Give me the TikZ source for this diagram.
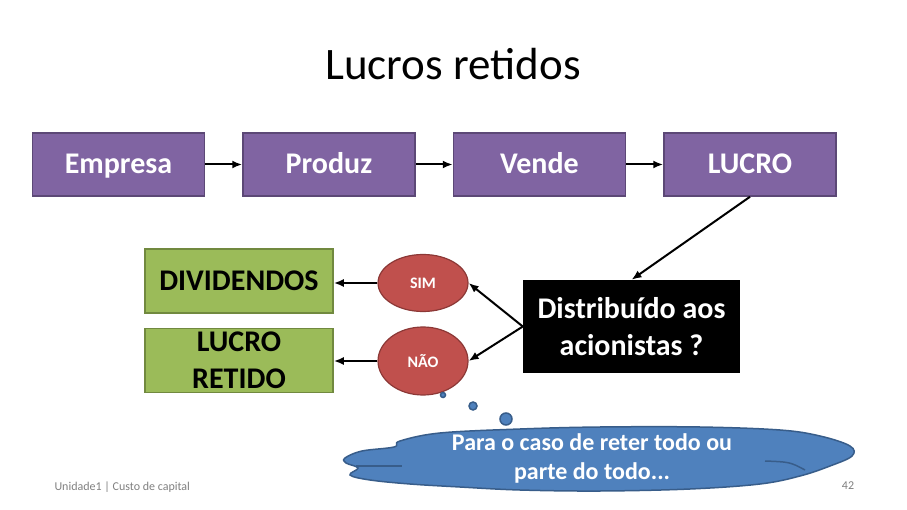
\documentclass[tikz,border=0pt]{standalone}
\usepackage{fontspec}
\setmainfont{Carlito}
\usepackage{tikz}
\usetikzlibrary{arrows.meta,positioning,shapes.geometric}
\usepackage{xcolor}
\definecolor{roxo}{HTML}{8064A2}
\definecolor{roxoborda}{HTML}{5C4876}
\definecolor{verde}{HTML}{9BBB59}
\definecolor{verdeborda}{HTML}{71893F}
\definecolor{vermelho}{HTML}{C0504D}
\definecolor{vermelhoborda}{HTML}{8C3836}
\definecolor{azul}{HTML}{4F81BD}
\definecolor{azulborda}{HTML}{385D8A}

\begin{document}
\begin{tikzpicture}[
  x=1pt, y=-1pt,
  node distance=37pt,
  procbox/.style={draw=roxoborda, fill=roxo, line width=1.5pt, minimum width=172pt, minimum height=63pt, text height=21pt, text depth=2pt, text=white, font=\bfseries\fontsize{30}{36}\selectfont},
  greenbox/.style={draw=verdeborda, fill=verde, line width=1.5pt, minimum width=188pt, minimum height=64pt, align=center, font=\bfseries\fontsize{30}{37}\selectfont},
  choice/.style={ellipse, draw=vermelhoborda, fill=vermelho, line width=1.2pt, minimum width=90pt, inner sep=0pt, text=white, font=\bfseries\fontsize{16}{18}\selectfont},
  bubble/.style={circle, draw=azulborda, fill=azul, line width=1.5pt, inner sep=0pt},
  flow/.style={-{Latex[length=10pt,width=8pt]}, line width=2pt}
]
\useasboundingbox (0,0) rectangle (907,510);
\node[font=\fontsize{45}{50}\selectfont] (titulo) at (453,64) {Lucros retidos};
% linha de cima
\node[procbox] (empresa) at (118.5,164.5) {Empresa};
\node[procbox, right=of empresa] (produz) {Produz};
\node[procbox, right=of produz] (vende) {Vende};
\node[procbox, right=of vende] (lucro) {LUCRO};
% decisao
\node[fill=black, minimum width=217pt, minimum height=93pt, align=center, text=white, font=\bfseries\fontsize{30}{37}\selectfont] (pergunta) at (631.5,326.5) {Distribuído aos\\acionistas ?};
\node[choice, minimum height=57pt] (sim) at (423,283) {SIM};
\node[choice, minimum height=68pt] (nao) at (423,361) {NÃO};
\node[greenbox] (divid) at (239,281) {DIVIDENDOS};
\node[greenbox, below=14pt of divid] (retido) {LUCRO\\RETIDO};
% nota em forma de nuvem
\draw[azulborda, fill=azul, line width=1.5pt] plot[smooth cycle, tension=0.6] coordinates {
  (345,458) (362,451) (394,447) (400,441) (440,433) (520,429) (600,427)
  (700,427) (780,430) (820,436) (850,446) (852,456) (830,466) (800,476)
  (760,484) (690,489) (600,491) (520,490) (460,487) (410,484) (370,480)
  (350,475) (358,468) (346,463)};
\draw[azulborda, line width=1.5pt] (356,466) -- (402,466);
\draw[azulborda, line width=1.5pt] (765,461) .. controls (790,462) .. (805,470);
\node[align=center, text=white, font=\bfseries\fontsize{24}{29}\selectfont] (nota) at (592,458) {Para o caso de reter todo ou\\parte do todo...};
\node[bubble, minimum size=5pt] (b1) at (443,395) {};
\node[bubble, minimum size=8pt] (b2) at (473,406) {};
\node[bubble, minimum size=12pt] (b3) at (506,419) {};
% rodape
\node[text=gray, font=\fontsize{12}{14}\selectfont, anchor=west] (rodape) at (51,487) {Unidade1 | Custo de capital};
\node[text=gray, font=\fontsize{12}{14}\selectfont] (pagina) at (848,486) {42};
\draw[flow] (empresa) -- (produz);
\draw[flow] (produz) -- (vende);
\draw[flow] (vende) -- (lucro);
\draw[flow] (lucro.south) -- (pergunta.north);
\draw[flow] (pergunta.west) -- (sim.east);
\draw[flow] (pergunta.west) -- (nao.east);
\draw[flow] (sim.west) -- (sim.west -| divid.east);
\draw[flow] (nao.west) -- (nao.west -| retido.east);
\end{tikzpicture}
\end{document}
